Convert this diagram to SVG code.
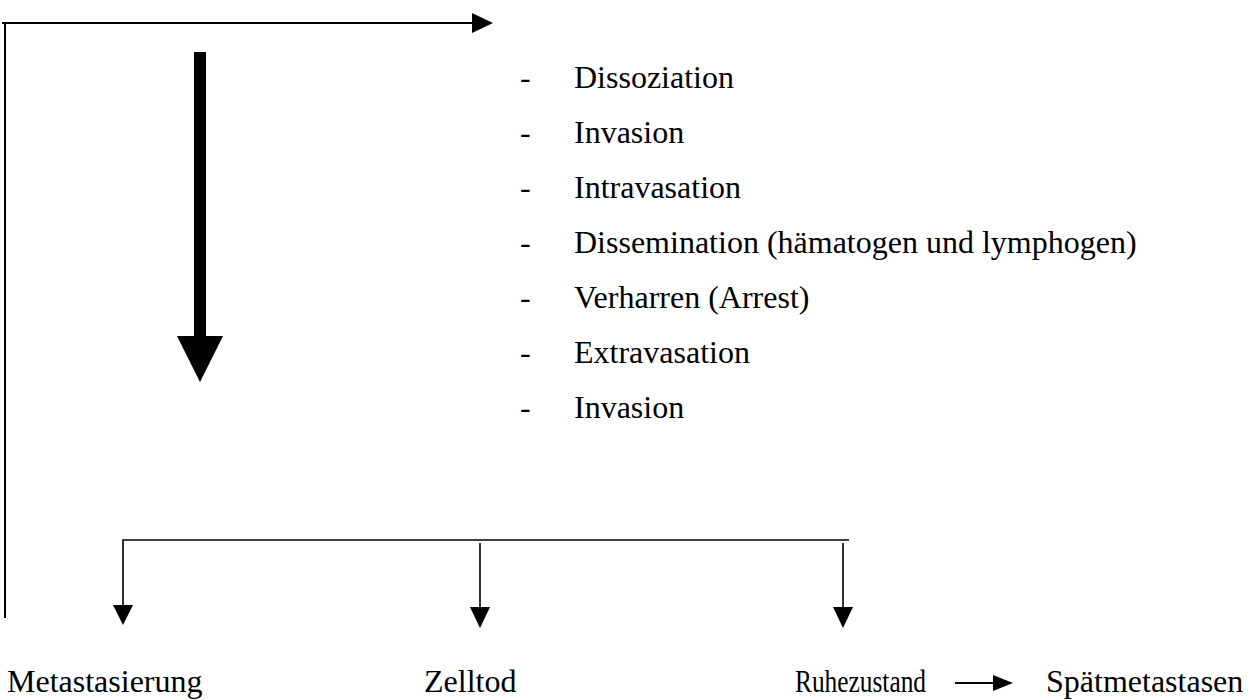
<svg xmlns="http://www.w3.org/2000/svg" width="1254" height="700" viewBox="0 0 1254 700">
<style>
.t{font-family:'Liberation Serif',Tinos,'Times New Roman',Times,serif;font-size:32px;fill:#000}
.ln{stroke:#000;fill:none}
.hd{fill:#000;stroke:none}
</style>
<rect width="1254" height="700" fill="#fff"/>
<g id="connectors">
<line class="ln" x1="2" y1="23" x2="473" y2="23" stroke-width="2"/>
<polygon class="hd" points="472,13 493,23 472,33"/>
<line class="ln" x1="5" y1="22" x2="5" y2="618" stroke-width="2"/>
<rect class="hd" x="194" y="52" width="12" height="285"/>
<polygon class="hd" points="177,336 223,336 200,382"/>
<polyline class="ln" points="123,606 123,540 849,540" stroke-width="1.6"/>
<polygon class="hd" points="113,605 133,605 123,625"/>
<line class="ln" x1="480" y1="543" x2="480" y2="608" stroke-width="1.6"/>
<polygon class="hd" points="470,607 490,607 480,628"/>
<line class="ln" x1="843" y1="543" x2="843" y2="608" stroke-width="1.6"/>
<polygon class="hd" points="833,607 853,607 843,628"/>
<line class="ln" x1="955" y1="683" x2="994" y2="683" stroke-width="2"/>
<polygon class="hd" points="993,675 1013,683 993,691"/>
</g>
<g id="list" class="t">
<text x="520" y="88">-</text><text x="574" y="88">Dissoziation</text>
<text x="520" y="143">-</text><text x="574" y="143">Invasion</text>
<text x="520" y="198">-</text><text x="574" y="198">Intravasation</text>
<text x="520" y="253">-</text><text x="574" y="253">Dissemination (hämatogen und lymphogen)</text>
<text x="520" y="308">-</text><text x="574" y="308">Verharren (Arrest)</text>
<text x="520" y="363">-</text><text x="574" y="363">Extravasation</text>
<text x="520" y="418">-</text><text x="574" y="418">Invasion</text>
</g>
<g id="metastasierung" class="t"><text x="7" y="692">Metastasierung</text></g>
<g id="zelltod" class="t"><text x="424" y="692">Zelltod</text></g>
<g id="ruhezustand" class="t"><text x="795" y="692" textLength="131" lengthAdjust="spacingAndGlyphs">Ruhezustand</text></g>
<g id="spaetmetastasen" class="t"><text x="1046" y="692">Spätmetastasen</text></g>
</svg>
